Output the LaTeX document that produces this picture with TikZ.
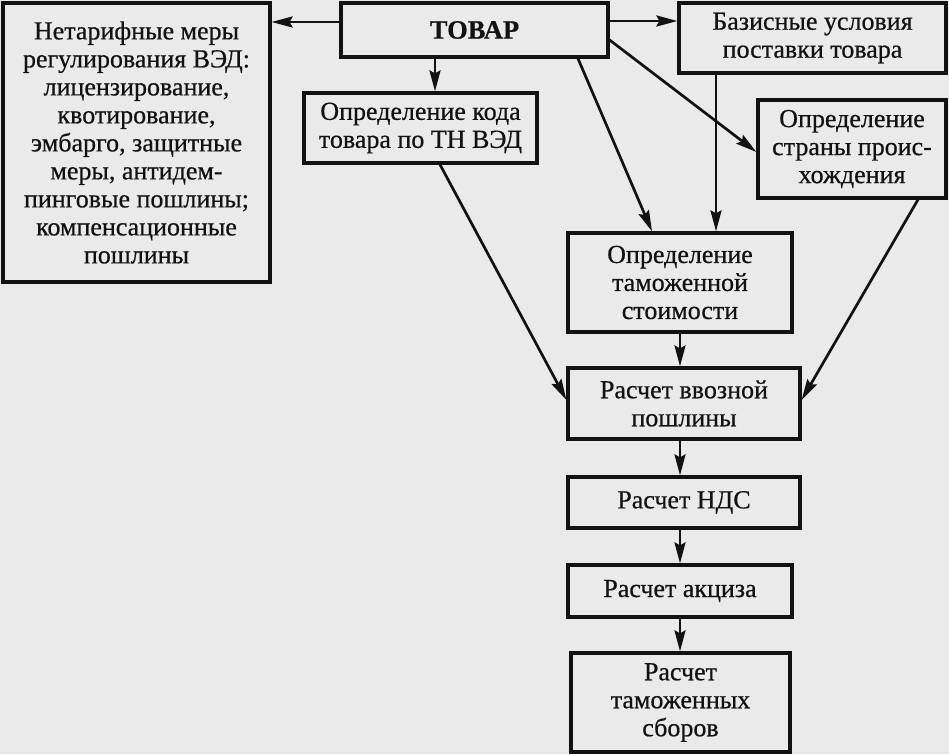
\documentclass[tikz,border=0pt]{standalone}
\usepackage{fontspec}
\setmainfont[FakeBold=0.6]{Liberation Serif}
\usetikzlibrary{arrows.meta}
\definecolor{bgcol}{RGB}{234,234,234}
\definecolor{ink}{RGB}{18,18,18}
\begin{document}
\begin{tikzpicture}[x=1pt,y=-1pt,
  box/.style={draw=ink, text=ink, line width=3.2pt, inner sep=0pt, align=center,
    font=\fontsize{26}{28}\selectfont},
  arr/.style={draw=ink, line width=2.7pt, -{Stealth[length=21pt,width=11pt,inset=3pt]}}]
\fill[bgcol] (0,0) rectangle (949,754);
\useasboundingbox (0,0) rectangle (949,754);

\node[box, minimum width=267pt, minimum height=279pt] (net) at (136.5,142.5)
  {Нетарифные меры\\регулирования ВЭД:\\лицензирование,\\квотирование,\\эмбарго, защитные\\меры, антидем-\\пинговые пошлины;\\компенсационные\\пошлины};
\node[box, minimum width=267pt, minimum height=54pt, font=\fontsize{26.5}{28}\selectfont\bfseries] (tovar) at (474.5,30) {ТОВАР};
\node[box, minimum width=267pt, minimum height=70pt] (baz) at (812.5,38) {Базисные условия\\поставки товара};
\node[box, minimum width=233pt, minimum height=70pt] (kod) at (420.5,128) {Определение кода\\товара по ТН ВЭД};
\node[box, minimum width=188pt, minimum height=98pt] (strana) at (852,149) {Определение\\страны проис-\\хождения};
\node[box, minimum width=224pt, minimum height=99pt] (stoim) at (680,282.5) {Определение\\таможенной\\стоимости};
\node[box, minimum width=232pt, minimum height=71pt] (vvoz) at (684,403.5) {Расчет ввозной\\пошлины};
\node[box, minimum width=232pt, minimum height=51pt] (nds) at (684,502.5) {Расчет НДС};
\node[box, minimum width=224pt, minimum height=52pt] (akciz) at (680,591) {Расчет акциза};
\node[box, minimum width=219pt, minimum height=99pt] (sbor) at (680.5,702.5) {Расчет\\таможенных\\сборов};

\draw[arr] ([yshift=8pt]tovar.west) -- ([yshift=8pt]tovar.west -| net.east);
\draw[arr] ([yshift=9pt]tovar.east) -- ([yshift=9pt]tovar.east -| baz.west);
\draw[arr] ([xshift=-39.5pt]tovar.south) -- ([xshift=-39.5pt]tovar.south |- kod.north);
\draw[arr] ([yshift=-10pt]tovar.east) -- ([yshift=-3pt]strana.west);
\draw[arr] ([xshift=103.5pt]tovar.south) -- ([xshift=-28pt]stoim.north);
\draw[arr] ([xshift=36pt]stoim.north |- baz.south) -- ([xshift=36pt]stoim.north);
\draw[arr] ([xshift=19.5pt]kod.south) -- ([yshift=3.5pt]vvoz.west);
\draw[arr] ([xshift=66pt]strana.south) -- ([yshift=3.5pt]vvoz.east);
\draw[arr] (stoim.south) -- (stoim.south |- vvoz.north);
\draw[arr] (vvoz.south -| stoim.south) -- (stoim.south |- nds.north);
\draw[arr] (nds.south -| stoim.south) -- (akciz.north);
\draw[arr] (akciz.south) -- (sbor.north -| akciz.south);
\end{tikzpicture}
\end{document}
